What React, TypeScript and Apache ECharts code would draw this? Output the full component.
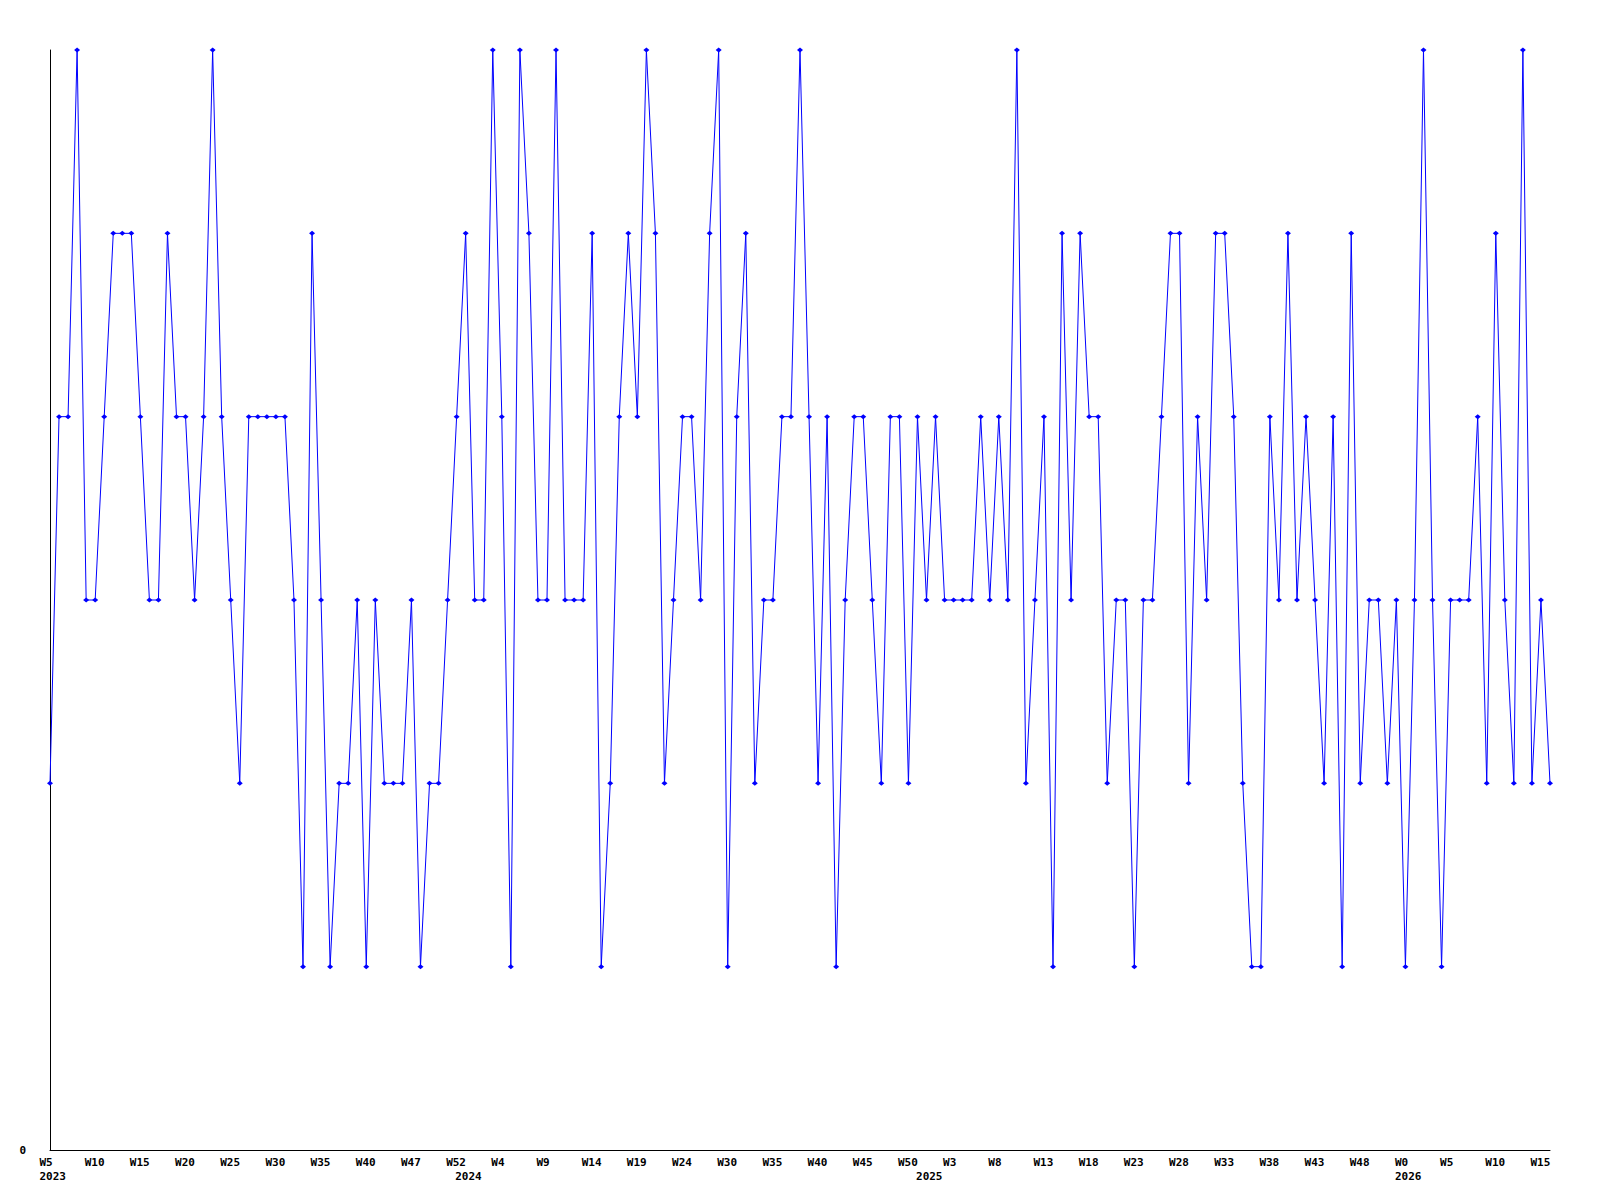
import React, { useEffect, useRef } from "react";
import * as echarts from "echarts";

// Weekly values (167 points)
const values: number[] = [
  2, 4, 4, 6, 3, 3, 4, 5, 5, 5, 4, 3, 3, 5, 4, 4, 3, 4, 6, 4, 3, 2, 4, 4, 4, 4, 4, 3, 1,
  5, 3, 1, 2, 2, 3, 1, 3, 2, 2, 2, 3, 1, 2, 2, 3, 4, 5, 3, 3, 6, 4, 1, 6, 5, 3, 3, 6,
  3, 3, 3, 5, 1, 2, 4, 5, 4, 6, 5, 2, 3, 4, 4, 3, 5, 6, 1, 4, 5, 2, 3, 3, 4, 4, 6,
  4, 2, 4, 1, 3, 4, 4, 3, 2, 4, 4, 2, 4, 3, 4, 3, 3, 3, 3, 4, 3, 4, 3, 6, 2, 3, 4, 1,
  5, 3, 5, 4, 4, 2, 3, 3, 1, 3, 3, 4, 5, 5, 2, 4, 3, 5, 5, 4, 2, 1, 1, 4, 3, 5, 3, 4,
  3, 2, 4, 1, 5, 2, 3, 3, 2, 3, 1, 3, 6, 3, 1, 3, 3, 3, 4, 2, 5, 3, 2, 6, 2, 3, 2,
];

// Tick labels shown on every 5th category
const tickLabels: string[] = [
  "W5", "W10", "W15", "W20", "W25", "W30", "W35", "W40", "W47", "W52",
  "W4", "W9", "W14", "W19", "W24", "W30", "W35", "W40", "W45", "W50",
  "W3", "W8", "W13", "W18", "W23", "W28", "W33", "W38", "W43", "W48",
  "W0", "W5", "W10", "W15",
];
const tickStep = 5;

// Year labels and the category index where each year starts
const years: string[] = ["2023", "2024", "2025", "2026"];
const yearStarts: number[] = [0, 46, 97, 150];

const categories: string[] = values.map((_, i) => String(i));

export default function App() {
  const ref = useRef<HTMLDivElement>(null);

  useEffect(() => {
    if (!ref.current) return;
    const chart = echarts.init(ref.current, null, { renderer: "svg" });
    const font = "DejaVu Sans Mono";
    chart.setOption({
      animation: false,
      backgroundColor: "#ffffff",
      grid: { left: 50, right: 50, top: 50, bottom: 50, containLabel: false },
      xAxis: {
        type: "category",
        data: categories,
        boundaryGap: false,
        axisLine: { show: true, lineStyle: { color: "#000000", width: 1 } },
        axisTick: { show: false },
        splitLine: { show: false },
        axisLabel: {
          interval: (i: number) => i % tickStep === 0 || yearStarts.includes(i),
          margin: 5,
          color: "#000000",
          fontFamily: font,
          fontWeight: "bold",
          fontSize: 11,
          lineHeight: 14,
          formatter: (_v: string, i: number) => {
            const t = i % tickStep === 0 ? tickLabels[i / tickStep] : undefined;
            const yi = yearStarts.indexOf(i);
            const top = t !== undefined ? `{w|${t}}` : "{w| }";
            if (yi >= 0) return `${top}\n{w|${years[yi]}}`;
            return top;
          },
          rich: {
            w: {
              width: 21,
              align: "left",
              fontFamily: font,
              fontWeight: "bold",
              fontSize: 11,
              lineHeight: 14,
              color: "#000000",
            },
          },
        },
      },
      yAxis: {
        type: "value",
        min: 0,
        max: 6,
        interval: 1,
        axisLine: { show: true, lineStyle: { color: "#000000", width: 1 } },
        axisTick: { show: false },
        splitLine: { show: false },
        axisLabel: {
          margin: 24,
          color: "#000000",
          fontFamily: font,
          fontWeight: "bold",
          fontSize: 11,
          formatter: (v: number) => (v === 0 ? "0" : ""),
        },
      },
      series: [
        {
          type: "line",
          data: values,
          color: "#0000ff",
          lineStyle: { color: "#0000ff", width: 1 },
          itemStyle: { color: "#0000ff" },
          symbol: "diamond",
          symbolSize: [6, 5],
          showSymbol: true,
          showAllSymbol: true,
        },
      ],
    });
    return () => chart.dispose();
  }, []);

  return (
    <div
      ref={ref}
      style={{ position: "fixed", left: 0, top: 0, width: 1600, height: 1200 }}
    />
  );
}
